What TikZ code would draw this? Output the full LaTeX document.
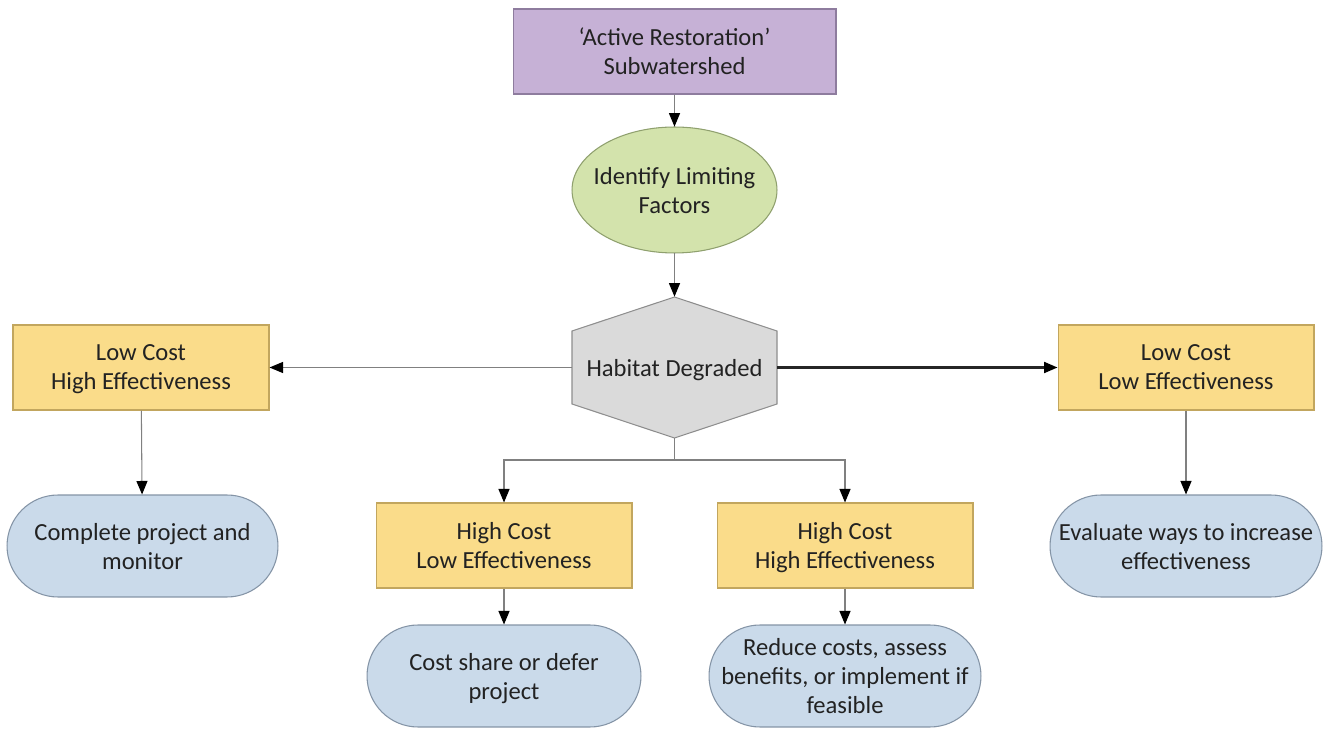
\documentclass[tikz,border=0pt]{standalone}
\usepackage{fontspec}
\setmainfont{Carlito}
\usetikzlibrary{arrows.meta}
\definecolor{purpfill}{HTML}{C6B1D6}
\definecolor{purpline}{HTML}{8E7C9E}
\definecolor{greenfill}{HTML}{D3E3AC}
\definecolor{greenline}{HTML}{8FA06E}
\definecolor{grayfill}{HTML}{DADADA}
\definecolor{grayline}{HTML}{8E8E8E}
\definecolor{yelfill}{HTML}{FADC8A}
\definecolor{yelline}{HTML}{C2A65E}
\definecolor{bluefill}{HTML}{CADAEA}
\definecolor{blueline}{HTML}{8494A6}
\definecolor{conn}{HTML}{808080}
\definecolor{txt}{HTML}{222222}
\begin{document}
\begin{tikzpicture}[x=0.02cm,y=-0.02cm,
  every node/.style={font=\fontsize{14}{16.5}\selectfont,text=txt,align=center,inner sep=0pt,text depth=0pt},
  topbox/.style={draw=purpline,fill=purpfill,line width=0.6pt,minimum width=6.46cm,minimum height=1.7cm},
  ovalshape/.style={draw=greenline,fill=greenfill,line width=0.6pt},
  hexshape/.style={draw=grayline,fill=grayfill,line width=0.6pt},
  costbox/.style={draw=yelline,fill=yelfill,line width=0.6pt,minimum width=5.12cm,minimum height=1.7cm},
  pillbox/.style={draw=blueline,fill=bluefill,line width=0.6pt,minimum height=2.04cm,rounded corners=1.02cm},
  link/.style={draw=conn,line width=0.6pt},
  arrow/.style={link,-{Triangle[length=0.27cm,width=0.22cm,color=black]}},
  darkarrow/.style={draw=black!85,line width=1.2pt,-{Triangle[length=0.27cm,width=0.22cm,color=black]}}
]
\useasboundingbox (0,0) rectangle (1330,729);
\node[topbox] (top) at (674.5,51.5) {‘Active Restoration’\\Subwatershed};
\filldraw[ovalshape] (674.5,190) ellipse [x radius=2.05cm, y radius=1.26cm];
\node[minimum width=4.1cm,minimum height=2.52cm] (ident) at (674.5,190) {Identify Limiting\\Factors};
\filldraw[hexshape]
  (674.5,297) -- (777,331) -- (777,404) -- (674.5,438) -- (572,404) -- (572,331) -- cycle;
\node[minimum width=4.1cm,minimum height=2.82cm] (hex) at (674.5,367.5) {Habitat Degraded};
\node[costbox] (lchE) at (141,367.5) {Low Cost\\High Effectiveness};
\node[costbox] (lclE) at (1186,367.5) {Low Cost\\Low Effectiveness};
\node[costbox] (hclE) at (504,545.5) {High Cost\\Low Effectiveness};
\node[costbox] (hchE) at (845,545.5) {High Cost\\High Effectiveness};
\node[pillbox,minimum width=5.42cm] (p1) at (142.5,546) {Complete project and\\monitor};
\node[pillbox,minimum width=5.44cm] (p4) at (1186,546) {Evaluate ways to increase\\effectiveness};
\node[pillbox,minimum width=5.48cm] (p2) at (504,676) {Cost share or defer\\project};
\node[pillbox,minimum width=5.44cm] (p3) at (845,676) {Reduce costs, assess\\benefits, or implement if\\feasible};
\coordinate (split) at (674.5,460);
\draw[arrow] (top) -- (ident);
\draw[arrow] (ident) -- (hex.north);
\draw[arrow] (hex.west) -- (lchE.east);
\draw[darkarrow] (hex.east) -- (lclE.west);
\draw[link] (hex.south) -- (split);
\draw[arrow] (split) -| (hclE.north);
\draw[arrow] (split) -| (hchE.north);
\draw[arrow] (lchE) -- (p1);
\draw[arrow] (lclE) -- (p4);
\draw[arrow] (hclE) -- (p2);
\draw[arrow] (hchE) -- (p3);
\end{tikzpicture}
\end{document}
